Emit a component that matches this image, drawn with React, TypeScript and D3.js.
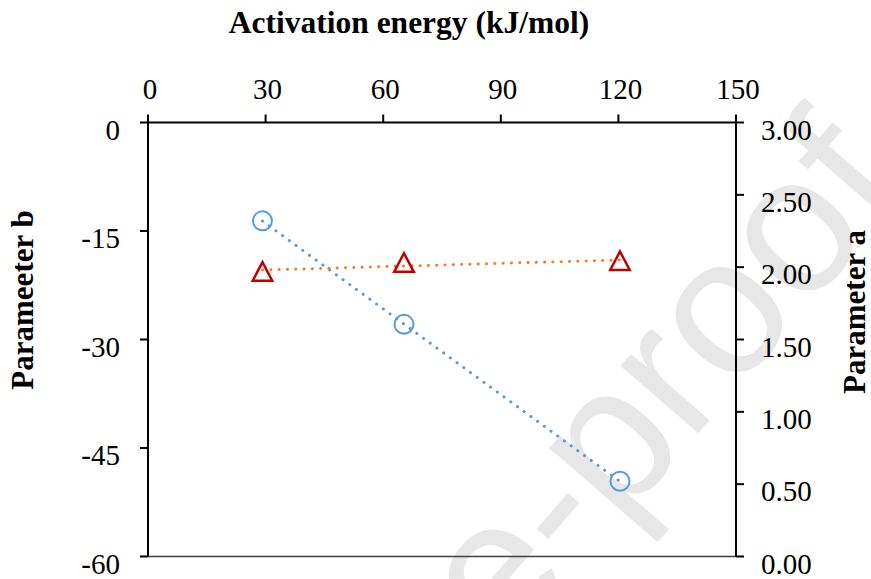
import React from "react";
import * as d3 from "d3";

const xTicks = [0, 30, 60, 90, 120, 150];
const bTicks = [0, -15, -30, -45, -60];
const aTicks = [0, 0.5, 1, 1.5, 2, 2.5, 3];

const energy = [29.2, 65.3, 120.4];
const paramB = [-13.6, -27.9, -49.6];
const paramA = [1.967, 2.029, 2.041];

const W = 871;
const H = 579;
const L = 148, R = 736, T = 122.5, B = 556.5;
const FONT = "'Liberation Serif', 'Times New Roman', serif";

function fit(xs: number[], ys: number[]) {
  const mx = d3.mean(xs)!;
  const my = d3.mean(ys)!;
  let sxy = 0, sxx = 0;
  xs.forEach((x, i) => { sxy += (x - mx) * (ys[i] - my); sxx += (x - mx) * (x - mx); });
  const m = sxy / sxx;
  const c = my - m * mx;
  return (x: number) => m * x + c;
}

export default function App() {
  const x = d3.scaleLinear().domain([0, 150]).range([L, R]);
  const yB = d3.scaleLinear().domain([-60, 0]).range([B, T]);
  const yA = d3.scaleLinear().domain([0, 3]).range([B, T]);

  const fB = fit(energy, paramB);
  const fA = fit(energy, paramA);
  const x0 = d3.min(energy)!, x1 = d3.max(energy)!;
  const lineB = d3.line<number>().x((d) => x(d)).y((d) => yB(fB(d)));
  const lineA = d3.line<number>().x((d) => x(d)).y((d) => yA(fA(d)));

  const tri = (cx: number, cy: number) => {
    const w = 19.5, h = 17.5;
    return `M${cx},${cy - h / 2 - 1}L${cx + w / 2},${cy + h / 2}L${cx - w / 2},${cy + h / 2}Z`;
  };

  return (
    <svg width={W} height={H} style={{ position: "absolute", left: 0, top: 0, background: "#fff" }} fontFamily={FONT}>
      <rect x={0} y={0} width={W} height={H} fill="#fff" />
      <defs>
        <clipPath id="page"><rect x={0} y={0} width={W} height={H} /></clipPath>
      </defs>
      {/* watermark */}
      <g clipPath="url(#page)">
        <text
          transform="translate(910,190) rotate(-49)"
          textAnchor="end"
          fontFamily="'Liberation Sans', Arial, sans-serif"
          fontSize={195}
          fill="#e7e7e7"
        >
          Journal Pre-proof
        </text>
      </g>

      {/* axes lines */}
      <line x1={L} x2={R} y1={B} y2={B} stroke="#404040" strokeWidth={1.5} />
      <line x1={L - 1} x2={R + 1} y1={T} y2={T} stroke="#000" strokeWidth={2} />
      <line x1={L} x2={L} y1={T} y2={B} stroke="#000" strokeWidth={2} />
      <line x1={R} x2={R} y1={T} y2={B} stroke="#000" strokeWidth={2} />

      {/* top ticks */}
      {xTicks.map((t) => (
        <g key={"x" + t}>
          <line x1={x(t)} x2={x(t)} y1={T} y2={T - 8} stroke="#000" strokeWidth={2} />
          <text x={x(t) + 2} y={99} textAnchor="middle" fontSize={29} fill="#000">{t}</text>
        </g>
      ))}
      {/* left ticks */}
      {bTicks.map((t) => (
        <g key={"b" + t}>
          <line x1={L - 8} x2={L} y1={yB(t)} y2={yB(t)} stroke="#000" strokeWidth={2} />
          <text x={120} y={yB(t) + 17} textAnchor="end" fontSize={29} fill="#000">{t === 0 ? "0" : "-" + Math.abs(t)}</text>
        </g>
      ))}
      {/* right ticks */}
      {aTicks.map((t) => (
        <g key={"a" + t}>
          <line x1={R} x2={R + 8} y1={yA(t)} y2={yA(t)} stroke="#000" strokeWidth={2} />
          <text x={761} y={yA(t) + 17} textAnchor="start" fontSize={29} fill="#000">{t.toFixed(2)}</text>
        </g>
      ))}

      {/* titles */}
      <text x={409} y={33} textAnchor="middle" fontSize={31.5} fontWeight="bold" fill="#000">Activation energy (kJ/mol)</text>
      <text transform="translate(33,300) rotate(-90)" textAnchor="middle" fontSize={31} fontWeight="bold" fill="#000">Parameeter b</text>
      <text transform="translate(865,312) rotate(-90)" textAnchor="middle" fontSize={31} fontWeight="bold" fill="#000">Parameter a</text>

      {/* trendlines */}
      <path d={lineB([x0, x1])!} fill="none" stroke="#5B9BD5" strokeWidth={3} strokeLinecap="round" strokeDasharray="0.1 8.2" />
      <path d={lineA([x0, x1])!} fill="none" stroke="#ED7D31" strokeWidth={3} strokeLinecap="round" strokeDasharray="0.1 8.2" />

      {/* markers */}
      {energy.map((e, i) => (
        <circle key={"c" + i} cx={x(e)} cy={yB(paramB[i])} r={9.5} fill="none" stroke="#5B9BD5" strokeWidth={2} />
      ))}
      {energy.map((e, i) => (
        <path key={"t" + i} d={tri(x(e), yA(paramA[i]))} fill="none" stroke="#C00000" strokeWidth={2.5} />
      ))}
    </svg>
  );
}
